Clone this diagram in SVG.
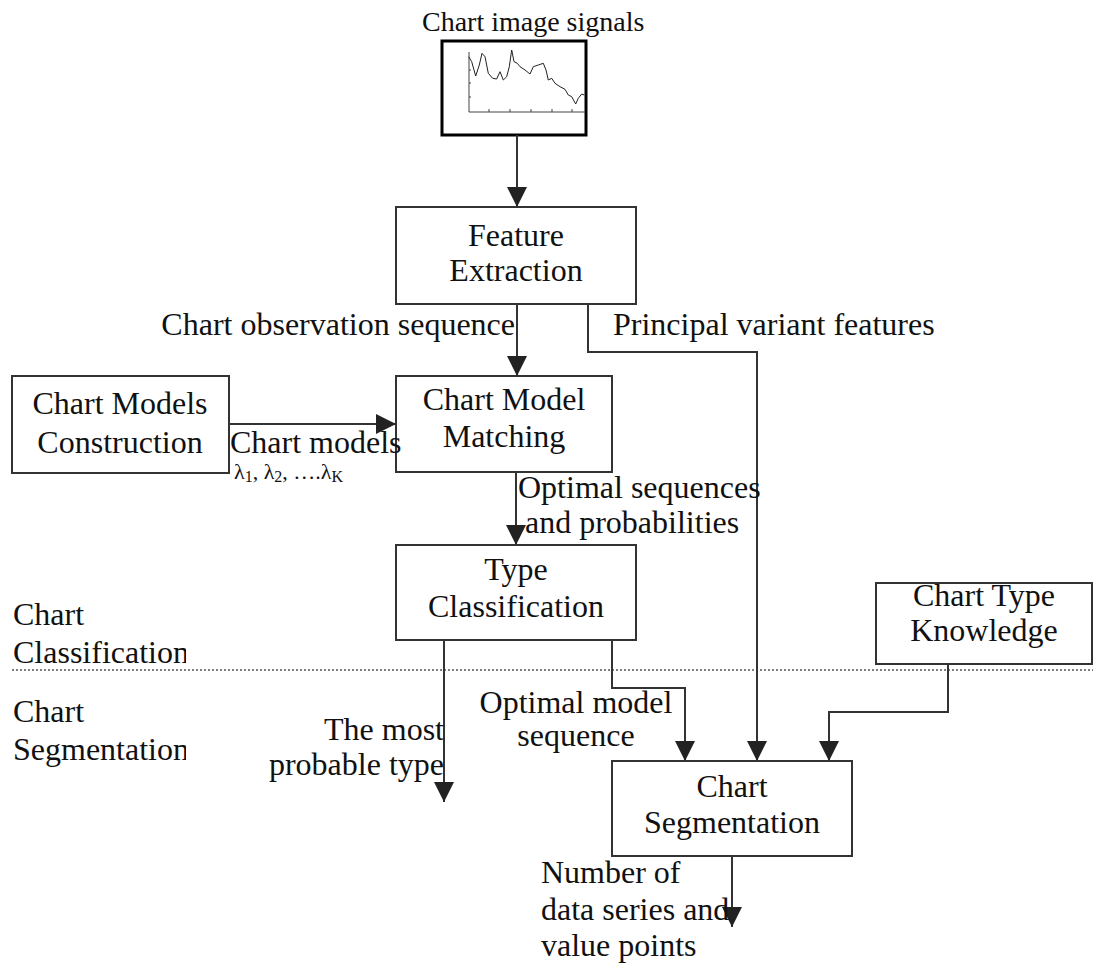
<svg xmlns="http://www.w3.org/2000/svg" width="1095" height="966" viewBox="0 0 1095 966">
<style>
text{font-family:"Liberation Serif","Times New Roman",serif;font-size:32px;fill:#111}
.box{fill:#fff;stroke:#333;stroke-width:2}
.c{text-anchor:middle}
.e{text-anchor:end}
.ln{fill:none;stroke:#333;stroke-width:2}
.arr{marker-end:url(#ah)}
</style>
<defs>
<marker id="ah" viewBox="0 0 20 20" refX="20" refY="10" markerWidth="20" markerHeight="20" markerUnits="userSpaceOnUse" orient="auto">
<path d="M0,0 L20,10 L0,20 z" fill="#222"/>
</marker>
<clipPath id="lc"><rect x="0" y="560" width="186" height="240"/></clipPath>
</defs>
<rect width="1095" height="966" fill="#fff"/>

<g id="section-divider">
<line x1="12" y1="670" x2="1093" y2="670" stroke="#555" stroke-width="1.5" stroke-dasharray="2,2"/>
<g clip-path="url(#lc)">
<text x="13" y="625">Chart</text>
<text x="13" y="663">Classification</text>
<text x="13" y="722">Chart</text>
<text x="13" y="760">Segmentation</text>
</g>
</g>

<g id="chart-image">
<text x="422" y="31" style="font-size:28px">Chart image signals</text>
<rect x="442" y="41" width="144" height="94" fill="#fff" stroke="#000" stroke-width="3"/>
<g stroke="#444" stroke-width="1" fill="none">
<path d="M469,52 V112 H585"/>
<path d="M489,112 v-3 M510,112 v-3 M531,112 v-3 M552,112 v-3 M572,112 v-3 M469,70 h2 M469,83 h2 M469,97 h2"/>
<path stroke="#222" d="M468.7,56.7 L471.7,61.7 L475.7,76 L479.3,65 L482,53.3 L485,56.7 L488.3,73.3 L492.7,78.3 L496.7,79 L500,71.7 L503.3,80 L506.7,76.7 L509.3,66.7 L511.7,50 L514,61.7 L517.3,63.3 L520,66.7 L525,70 L530,74 L533.3,66.7 L538.3,65 L543.3,63.3 L546,70 L548.3,80 L551.7,78.3 L555,83.3 L560,86.7 L565,89.3 L568.3,95 L571.7,96.7 L575.7,104 L578.3,98.3 L581.7,94 L584.3,95"/>
</g>
</g>

<g id="feature-extraction">
<rect class="box" x="396" y="207" width="240" height="97"/>
<text class="c" x="516" y="246">Feature</text>
<text class="c" x="516" y="281">Extraction</text>
</g>

<g id="chart-models-construction">
<rect class="box" x="12" y="376" width="217" height="97"/>
<text class="c" x="120" y="414">Chart Models</text>
<text class="c" x="120" y="453">Construction</text>
</g>

<g id="chart-model-matching">
<rect class="box" x="396" y="376" width="216" height="96"/>
<text class="c" x="504" y="410">Chart Model</text>
<text class="c" x="504" y="447">Matching</text>
</g>

<g id="type-classification">
<rect class="box" x="396" y="545" width="240" height="95"/>
<text class="c" x="516" y="580">Type</text>
<text class="c" x="516" y="617">Classification</text>
</g>

<g id="chart-type-knowledge">
<rect class="box" x="876" y="583" width="216" height="81"/>
<text class="c" x="984" y="606">Chart Type</text>
<text class="c" x="984" y="641">Knowledge</text>
</g>

<g id="chart-segmentation">
<rect class="box" x="612" y="761" width="240" height="95"/>
<text class="c" x="732" y="797">Chart</text>
<text class="c" x="732" y="833">Segmentation</text>
</g>

<g id="connectors">
<path class="ln arr" d="M517,135 V207"/>
<path class="ln arr" d="M517,304 V376"/>
<path class="ln arr" d="M588,304 V352 H757 V761"/>
<path class="ln arr" d="M229,424 H396"/>
<path class="ln arr" d="M516,472 V545"/>
<path class="ln arr" d="M444,640 V802"/>
<path class="ln arr" d="M612,640 V688 H685 V761"/>
<path class="ln arr" d="M948,664 V712 H829 V761"/>
<path class="ln arr" d="M732,856 V927"/>
</g>

<g id="labels">
<text class="e" x="515" y="335">Chart observation sequence</text>
<text x="613" y="335">Principal variant features</text>
<text x="230" y="453">Chart models</text>
<text x="234" y="479" style="font-size:22px">λ<tspan style="font-size:16px" dy="3">1</tspan><tspan dy="-3">, λ</tspan><tspan style="font-size:16px" dy="3">2</tspan><tspan dy="-3">, ….λ</tspan><tspan style="font-size:16px" dy="3">K</tspan></text>
<text x="518" y="498">Optimal sequences</text>
<text x="525" y="533">and probabilities</text>
<text class="e" x="444" y="740">The most</text>
<text class="e" x="444" y="775">probable type</text>
<text class="c" x="576" y="713">Optimal model</text>
<text class="c" x="576" y="746">sequence</text>
<text x="541" y="883">Number of</text>
<text x="541" y="920">data series and</text>
<text x="541" y="956">value points</text>
</g>
</svg>
